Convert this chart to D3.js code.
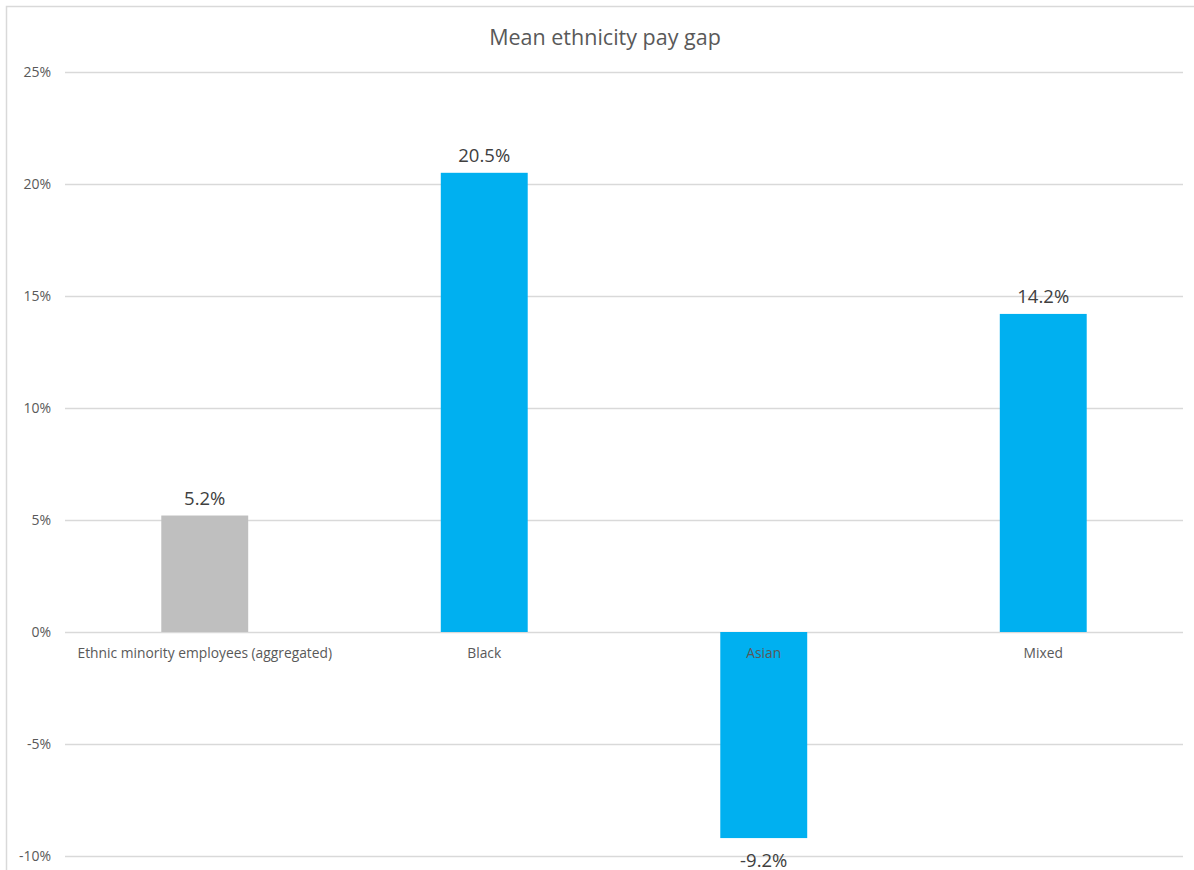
<!DOCTYPE html>
<html>
<head>
<meta charset="utf-8">
<script src="https://cdn.jsdelivr.net/npm/d3@7"></script>
<style>
  html, body { margin: 0; padding: 0; background: #fff; }
  svg { display: block; }
  text { font-family: "Open Sans", "Liberation Sans", sans-serif; }
</style>
</head>
<body>
<svg id="chart" width="1194" height="870"></svg>
<script>
// Mean ethnicity pay gap by group
const categories = ["Ethnic minority employees (aggregated)", "Black", "Asian", "Mixed"];
const payGap = [5.2, 20.5, -9.2, 14.2];
const barColors = ["#bfbfbf", "#00b0f0", "#00b0f0", "#00b0f0"];
const yTicks = [-10, -5, 0, 5, 10, 15, 20, 25];
const chartTitle = "Mean ethnicity pay gap";

const svg = d3.select("#chart");
const W = 1194, H = 870;
const plot = { left: 65, right: 1183, top: 72, bottom: 856 };

// chart area frame (top and left edges visible)
svg.append("path")
  .attr("d", `M6.5,${H} V6.5 H${W}`)
  .attr("fill", "none")
  .attr("stroke", "#d9d9d9")
  .attr("stroke-width", 1.5);

const x = d3.scaleBand()
  .domain(categories)
  .range([plot.left, plot.right])
  .padding(0);

const y = d3.scaleLinear()
  .domain([-10, 25])
  .range([plot.bottom, plot.top]);

const barW = x.bandwidth() * 0.311;

// horizontal gridlines
svg.append("g")
  .selectAll("line")
  .data(yTicks)
  .join("line")
  .attr("x1", plot.left)
  .attr("x2", plot.right)
  .attr("y1", d => Math.round(y(d)) + 0.5)
  .attr("y2", d => Math.round(y(d)) + 0.5)
  .attr("stroke", "#d9d9d9")
  .attr("stroke-width", 1.3);

// y axis labels
const yAxis = d3.axisLeft(y)
  .tickValues(yTicks)
  .tickSize(0)
  .tickPadding(0)
  .tickFormat(d => d + "%");
svg.append("g")
  .attr("transform", `translate(51,0)`)
  .call(yAxis)
  .call(g => g.select(".domain").remove())
  .call(g => g.selectAll("text")
    .attr("fill", "#595959")
    .style("font-size", "14px")
    .style("font-family", "'Open Sans', sans-serif"));

// bars
svg.append("g")
  .selectAll("rect")
  .data(categories)
  .join("rect")
  .attr("x", (d) => x(d) + (x.bandwidth() - barW) / 2)
  .attr("y", (d, i) => y(Math.max(0, payGap[i])))
  .attr("width", barW)
  .attr("height", (d, i) => Math.abs(y(payGap[i]) - y(0)))
  .attr("fill", (d, i) => barColors[i]);

// category labels below the zero line
svg.append("g")
  .selectAll("text")
  .data(categories)
  .join("text")
  .attr("x", d => x(d) + x.bandwidth() / 2)
  .attr("y", y(0) + 26)
  .attr("text-anchor", "middle")
  .attr("fill", "#595959")
  .style("font-size", "13.8px")
  .text(d => d);

// value labels
svg.append("g")
  .selectAll("text")
  .data(categories)
  .join("text")
  .attr("x", d => x(d) + x.bandwidth() / 2)
  .attr("y", (d, i) => payGap[i] >= 0 ? y(payGap[i]) - 11 : y(payGap[i]) + 29)
  .attr("text-anchor", "middle")
  .attr("fill", "#404040")
  .style("font-size", "18.5px")
  .text((d, i) => payGap[i].toFixed(1) + "%");

// title
svg.append("text")
  .attr("x", 605)
  .attr("y", 45)
  .attr("text-anchor", "middle")
  .attr("fill", "#595959")
  .style("font-size", "21.5px")
  .text(chartTitle);
</script>
</body>
</html>
